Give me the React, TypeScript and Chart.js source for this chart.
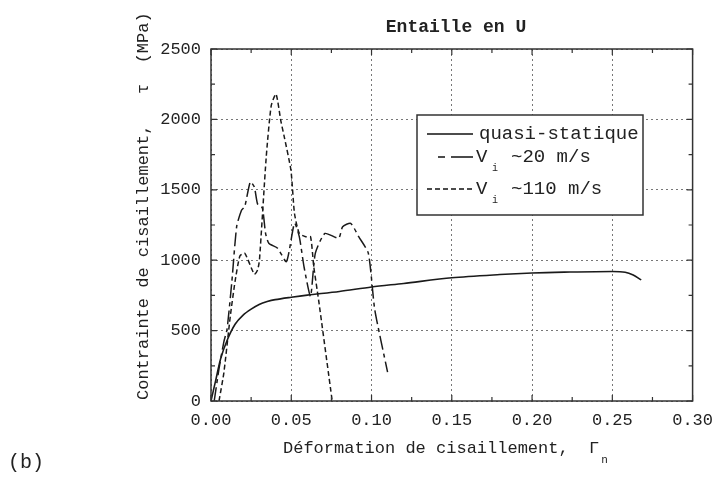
import React, { useEffect, useRef } from "react";
import { Chart, registerables } from "chart.js";

Chart.register(...registerables);

const FONT = '"Liberation Mono", "Courier New", monospace';

// Axis ticks
const xMajorTicks = [0, 0.05, 0.1, 0.15, 0.2, 0.25, 0.3];
const xMinorTicks = [0.025, 0.075, 0.125, 0.175, 0.225, 0.275];
const yMajorTicks = [0, 500, 1000, 1500, 2000, 2500];
const yMinorTicks = [250, 750, 1250, 1750, 2250];

// Series: quasi-statique
const qsX = [0, 0.003, 0.006, 0.01, 0.015, 0.02, 0.025, 0.03, 0.035, 0.04, 0.05, 0.06, 0.08, 0.1, 0.12, 0.15, 0.18, 0.2, 0.22, 0.25, 0.258, 0.263, 0.268];
const qsY = [0, 150, 300, 430, 545, 610, 652, 685, 706, 720, 737, 752, 778, 810, 835, 875, 898, 909, 915, 920, 915, 895, 860];

// Series: Vi ~20 m/s
const v20X = [0.002, 0.005, 0.008, 0.01, 0.013, 0.016, 0.019, 0.021, 0.0245, 0.027, 0.029, 0.032, 0.034, 0.036, 0.0415, 0.047, 0.052, 0.055, 0.058, 0.062, 0.065, 0.071, 0.0795, 0.082, 0.087, 0.092, 0.098, 0.102, 0.11];
const v20Y = [0, 230, 420, 510, 850, 1240, 1355, 1380, 1556, 1520, 1400, 1370, 1190, 1120, 1085, 990, 1262, 1167, 950, 744, 1050, 1190, 1156, 1238, 1262, 1167, 1050, 650, 205];

// Series: Vi ~110 m/s
const v110X = [0.005, 0.008, 0.012, 0.015, 0.018, 0.021, 0.027, 0.029, 0.0302, 0.0344, 0.0375, 0.0405, 0.0435, 0.0457, 0.0498, 0.052, 0.055, 0.059, 0.062, 0.064, 0.067, 0.0755];
const v110Y = [0, 200, 600, 850, 1030, 1050, 900, 930, 1003, 1732, 2097, 2180, 1990, 1873, 1638, 1333, 1190, 1167, 1167, 955, 720, 0];

const toPts = (xs: number[], ys: number[]) => xs.map((x, i) => ({ x, y: ys[i] }));

const decorPlugin = {
  id: "decor",
  afterDraw(chart: any) {
    const ctx = chart.ctx as CanvasRenderingContext2D;
    const a = chart.chartArea;
    const xs = chart.scales.x;
    const ys = chart.scales.y;
    ctx.save();
    ctx.strokeStyle = "#333";
    ctx.fillStyle = "#222";
    ctx.setLineDash([]);
    // frame
    ctx.lineWidth = 1.5;
    ctx.strokeRect(a.left, a.top, a.right - a.left, a.bottom - a.top);
    // inward ticks
    ctx.lineWidth = 1.2;
    const drawX = (vals: number[], len: number) => {
      vals.forEach((v) => {
        const px = xs.getPixelForValue(v);
        ctx.beginPath();
        ctx.moveTo(px, a.bottom);
        ctx.lineTo(px, a.bottom - len);
        ctx.moveTo(px, a.top);
        ctx.lineTo(px, a.top + len);
        ctx.stroke();
      });
    };
    const drawY = (vals: number[], len: number) => {
      vals.forEach((v) => {
        const py = ys.getPixelForValue(v);
        ctx.beginPath();
        ctx.moveTo(a.left, py);
        ctx.lineTo(a.left + len, py);
        ctx.moveTo(a.right, py);
        ctx.lineTo(a.right - len, py);
        ctx.stroke();
      });
    };
    drawX(xMajorTicks, 6);
    drawX(xMinorTicks, 4);
    drawY(yMajorTicks, 6);
    drawY(yMinorTicks, 4);

    // Title
    ctx.font = "bold 18px " + FONT;
    ctx.textAlign = "center";
    ctx.textBaseline = "middle";
    ctx.fillText("Entaille en U", 456, 27);

    // Y axis title
    ctx.font = "17px " + FONT;
    ctx.save();
    ctx.translate(143, 400);
    ctx.rotate(-Math.PI / 2);
    ctx.textAlign = "left";
    ctx.fillText("Contrainte de cisaillement,   \u03c4  (MPa)", 0, 0);
    ctx.restore();

    // X axis title
    ctx.textAlign = "left";
    ctx.font = "17px " + FONT;
    const xt = "D\u00e9formation de cisaillement,  \u0393";
    ctx.fillText(xt, 283, 448);
    const w = ctx.measureText(xt).width;
    ctx.font = "11px " + FONT;
    ctx.fillText("n", 283 + w + 2, 460);

    // (b)
    ctx.font = "20px " + FONT;
    ctx.fillText("(b)", 8, 463);

    // Legend
    const lx = 417, ly = 115, lw = 226, lh = 100;
    ctx.fillStyle = "#fff";
    ctx.fillRect(lx, ly, lw, lh);
    ctx.lineWidth = 1.5;
    ctx.strokeStyle = "#333";
    ctx.strokeRect(lx, ly, lw, lh);
    ctx.fillStyle = "#222";
    ctx.strokeStyle = "#111";
    ctx.lineWidth = 1.5;
    const rows = [134, 157, 189];
    // row 1 solid
    ctx.beginPath();
    ctx.moveTo(427, rows[0]);
    ctx.lineTo(473, rows[0]);
    ctx.stroke();
    // row 2 dash-dot
    ctx.beginPath();
    ctx.moveTo(438, rows[1]);
    ctx.lineTo(445, rows[1]);
    ctx.moveTo(451, rows[1]);
    ctx.lineTo(473, rows[1]);
    ctx.stroke();
    // row 3 dashed
    ctx.setLineDash([5, 3]);
    ctx.beginPath();
    ctx.moveTo(427, rows[2]);
    ctx.lineTo(473, rows[2]);
    ctx.stroke();
    ctx.setLineDash([]);
    ctx.font = "19px " + FONT;
    ctx.textAlign = "left";
    ctx.fillText(chart.data.datasets[0].label, 479, rows[0]);
    ctx.fillText("V", 476, rows[1]);
    ctx.fillText("~20 m/s", 511, rows[1]);
    ctx.fillText("V", 476, rows[2]);
    ctx.fillText("~110 m/s", 511, rows[2]);
    ctx.font = "10px " + FONT;
    ctx.fillText("i", 492, rows[1] + 11);
    ctx.fillText("i", 492, rows[2] + 11);
    ctx.restore();
  },
};

export default function App() {
  const ref = useRef<HTMLCanvasElement | null>(null);
  useEffect(() => {
    if (!ref.current) return;
    const chart = new Chart(ref.current, {
      type: "scatter",
      data: {
        datasets: [
          {
            label: "quasi-statique",
            data: toPts(qsX, qsY),
            showLine: true,
            borderColor: "#1a1a1a",
            borderWidth: 1.6,
            pointRadius: 0,
            tension: 0.3,
          },
          {
            label: "Vi ~20 m/s",
            data: toPts(v20X, v20Y),
            showLine: true,
            borderColor: "#1a1a1a",
            borderWidth: 1.5,
            borderDash: [14, 4, 4, 4],
            pointRadius: 0,
            tension: 0.2,
          },
          {
            label: "Vi ~110 m/s",
            data: toPts(v110X, v110Y),
            showLine: true,
            borderColor: "#1a1a1a",
            borderWidth: 1.5,
            borderDash: [5, 3],
            pointRadius: 0,
            tension: 0.2,
          },
        ],
      },
      options: {
        animation: false,
        responsive: false,
        layout: { padding: { top: 49, right: 25, left: 0, bottom: 0 } },
        plugins: {
          legend: { display: false },
          title: { display: false },
          tooltip: { enabled: false },
        },
        scales: {
          x: {
            type: "linear",
            min: 0,
            max: 0.3,
            afterFit: (s: any) => {
              s.height = 76;
            },
            afterBuildTicks: (s: any) => {
              s.ticks = xMajorTicks.map((v) => ({ value: v }));
            },
            ticks: {
              padding: 9,
              color: "#222",
              font: { family: FONT, size: 17 },
              callback: (v: any) => Number(v).toFixed(2),
              maxRotation: 0,
              autoSkip: false,
            },
            grid: { color: "#777", lineWidth: 1, drawTicks: false },
            border: { display: false, dash: [2, 3] },
          },
          y: {
            type: "linear",
            min: 0,
            max: 2500,
            afterFit: (s: any) => {
              s.width = 211;
            },
            afterBuildTicks: (s: any) => {
              s.ticks = yMajorTicks.map((v) => ({ value: v }));
            },
            ticks: {
              padding: 10,
              color: "#222",
              font: { family: FONT, size: 17 },
              callback: (v: any) => String(v),
            },
            grid: { color: "#777", lineWidth: 1, drawTicks: false },
            border: { display: false, dash: [2, 3] },
          },
        },
      },
      plugins: [decorPlugin],
    });
    return () => chart.destroy();
  }, []);
  return (
    <div style={{ position: "absolute", left: 0, top: 0, width: 722, height: 477, background: "#fff" }}>
      <canvas ref={ref} width={722} height={477} style={{ display: "block" }} />
    </div>
  );
}
